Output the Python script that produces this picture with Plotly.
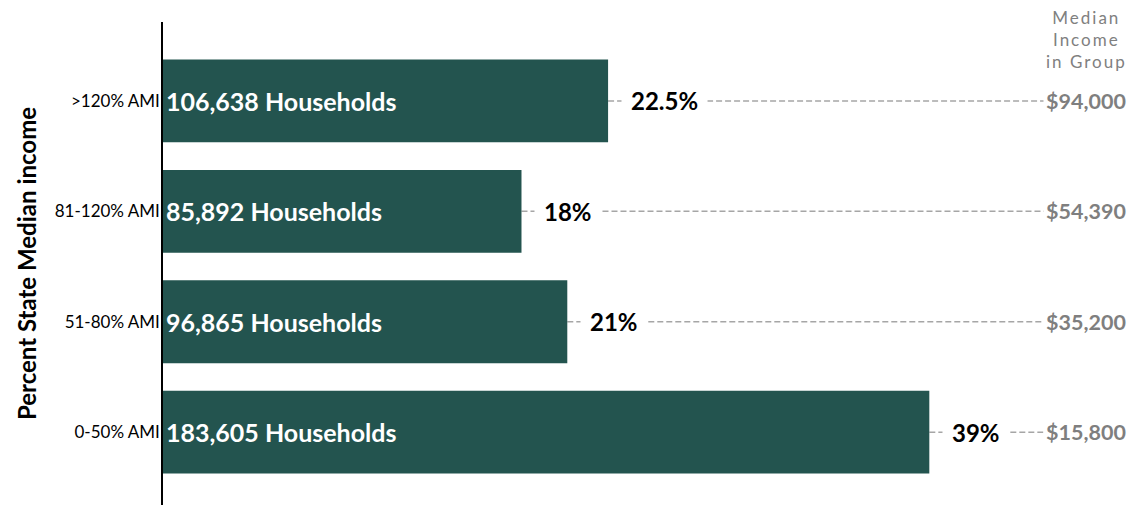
import plotly.graph_objects as go

# data, bottom to top
groups = ["0-50% AMI", "51-80% AMI", "81-120% AMI", ">120% AMI"]
households = [183605, 96865, 85892, 106638]
share_labels = ["39%", "21%", "18%", "22.5%"]
median_income = ["$15,800", "$35,200", "$54,390", "$94,000"]

BAR = "#23544F"
FONT = "Lato"
XMAX = 236000
LABEL_X = 0.937  # paper position of the income column

fig = go.Figure()
fig.add_trace(go.Bar(
    y=groups,
    x=households,
    orientation="h",
    marker=dict(color=BAR, line=dict(width=0)),
    width=0.75,
    text=[f"{h:,} Households" for h in households],
    textposition="inside",
    insidetextanchor="start",
    constraintext="none",
    textfont=dict(family=FONT, size=25, color="white", weight="bold"),
    hoverinfo="skip",
))

for g, h, pct, inc in zip(groups, households, share_labels, median_income):
    fig.add_shape(type="line", xref="x", yref="y", x0=h, x1=LABEL_X * XMAX, y0=g, y1=g,
                  line=dict(color="#A6A6A6", width=1.5, dash="6px,3px"), layer="below")
    fig.add_annotation(x=h, y=g, xref="x", yref="y", text=f"<b>{pct}</b>", showarrow=False,
                       xanchor="left", xshift=13, bgcolor="white", borderpad=9,
                       font=dict(family=FONT, size=24, color="black"))
    fig.add_annotation(x=LABEL_X, y=g, xref="paper", yref="y", text=f"<b>{inc}</b>", showarrow=False,
                       xanchor="center", bgcolor="white", borderpad=2,
                       font=dict(family=FONT, size=21.5, color="#7F7F7F"))

fig.add_annotation(x=0.938, y=1.035, xref="paper", yref="paper", xanchor="center", yanchor="top",
                   text="Median<br>Income<br>in Group", showarrow=False, align="center",
                   font=dict(family=FONT, size=17, color="#808080"))

fig.update_layout(
    width=1148, height=505,
    margin=dict(l=163, r=0, t=22, b=0),
    plot_bgcolor="white", paper_bgcolor="white",
    showlegend=False,
    font=dict(family=FONT, color="black"),
    xaxis=dict(range=[0, XMAX], visible=False),
    yaxis=dict(
        range=[-0.66, 3.715],
        showline=True, linecolor="black", linewidth=1.5,
        ticks="", showgrid=False, zeroline=False, automargin=False,
        tickfont=dict(family=FONT, size=17, color="black"),
        ticklabelstandoff=-2,
        title=dict(text="<b>Percent State Median income</b>", standoff=11,
                   font=dict(family=FONT, size=24, color="black")),
    ),
)

# browser body margin would push the figure off by 8px; header text is letter-spaced
js = """
document.body.style.margin = '0';
document.querySelectorAll('.annotation-text').forEach(function (t) {
  if (t.textContent.indexOf('Median') === 0) { t.style.letterSpacing = '2px'; }
});
"""
fig.write_html("out.html", post_script=js, config={"displayModeBar": False})
